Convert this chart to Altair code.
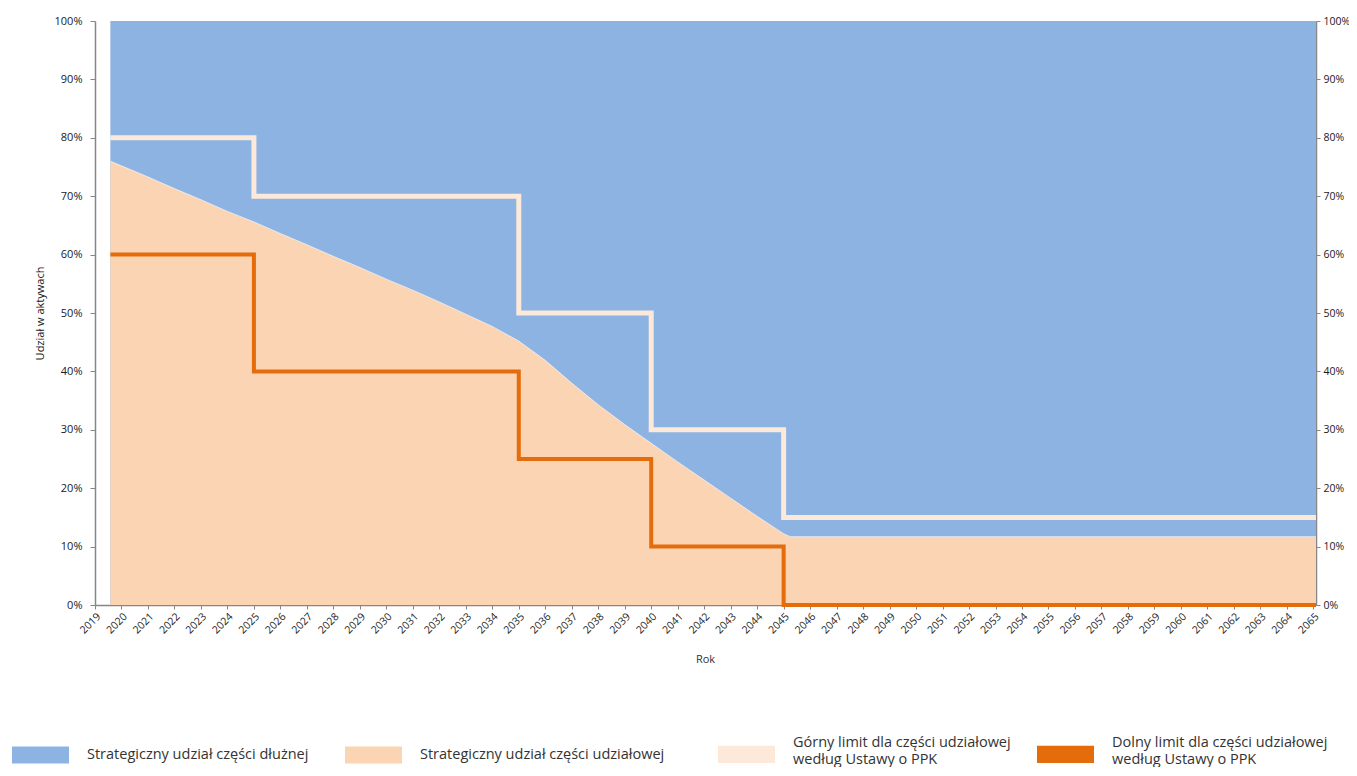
import altair as alt
import pandas as pd

# ---- data ----
eq_years = [2019.58, 2020, 2021, 2022, 2023, 2024, 2025, 2026, 2027, 2028, 2029,
            2030, 2031, 2032, 2033, 2034, 2035, 2036, 2037, 2038, 2039, 2040,
            2041, 2042, 2043, 2044, 2045, 2045.25, 2065.1]
equity = [0.760, 0.752, 0.733, 0.713, 0.694, 0.674, 0.656, 0.636, 0.617, 0.597, 0.578,
          0.558, 0.539, 0.519, 0.498, 0.477, 0.452, 0.419, 0.380, 0.343, 0.309, 0.277,
          0.245, 0.214, 0.183, 0.152, 0.122, 0.117, 0.117]
debt_top = [1.0] * len(eq_years)

limit_years = [2019.58, 2025, 2035, 2040, 2045, 2065.1]
upper_limit = [0.80, 0.70, 0.50, 0.30, 0.15, 0.15]
lower_limit = [0.60, 0.40, 0.25, 0.10, 0.00, 0.00]

tick_years = list(range(2019, 2066))
pct_ticks = [0.0, 0.1, 0.2, 0.3, 0.4, 0.5, 0.6, 0.7, 0.8, 0.9, 1.0]

legend_names = ["Strategiczny udział części dłużnej",
                "Strategiczny udział części udziałowej",
                "Górny limit dla części udziałowej|według Ustawy o PPK",
                "Dolny limit dla części udziałowej|według Ustawy o PPK"]
legend_colors = ["#8DB3E2", "#FBD4B4", "#FDE9D9", "#E46C0A"]
legend_x = [-83, 250, 623, 942]
legend_y = [705.5, 705.5, 693.5, 693.5]
legend_shapes = ["M-1,-0.3H1V0.3H-1Z", "M-1,-0.3H1V0.3H-1Z",
                 "M-1,0.1H1V0.7H-1Z", "M-1,0.1H1V0.7H-1Z"]

# ---- tables ----
area_df = pd.DataFrame({"year": eq_years, "equity": equity, "top": debt_top})
lim_df = pd.DataFrame({"year": limit_years, "upper": upper_limit, "lower": lower_limit})

W, H = 1221, 584
AX = "#868686"
FONT = "Open Sans"

x_enc = alt.X("year:Q",
              scale=alt.Scale(domain=[2019, 2065.1], nice=False, zero=False),
              axis=alt.Axis(values=tick_years, format="d", labelAngle=315,
                            labelOverlap=False, labelFlush=False, grid=False,
                            tickSize=4, tickColor=AX, domainColor=AX, domainWidth=1.5,
                            labelFontSize=10.5, labelFont=FONT, labelColor="#262626",
                            labelPadding=2,
                            title="Rok", titleFont=FONT, titleFontSize=11,
                            titleFontWeight="normal", titleColor="#333333",
                            titleX=610, titleY=54, titleBaseline="middle",
                            titleAlign="center"))

y_scale = alt.Scale(domain=[0, 1], nice=False, zero=True)
left_axis = alt.Axis(values=pct_ticks, format=".0%", grid=False, orient="left",
                     tickSize=5, tickColor=AX, domainColor=AX, domainWidth=1.5,
                     labelFontSize=11, labelFont=FONT, labelColor="#1a1a1a",
                     labelPadding=8,
                     title="Udział w aktywach", titleFont=FONT, titleFontSize=11,
                     titleFontWeight="normal", titleColor="#1a1a1a",
                     titleX=-55, titleY=H / 2, titleAngle=270,
                     titleAlign="center", titleBaseline="middle")
right_axis = alt.Axis(values=pct_ticks, format=".0%", grid=False, orient="right",
                      tickSize=4, tickColor=AX, domainColor=AX, domainWidth=1.5,
                      labelFontSize=10.5, labelFont=FONT, labelColor="#1a1a1a",
                      labelPadding=3, title=None)

base = alt.Chart(area_df)
blue = base.mark_area(color=legend_colors[0], interpolate="linear").encode(
    x=x_enc, y=alt.Y("top:Q", scale=y_scale, axis=left_axis))
peach = base.mark_area(color=legend_colors[1], interpolate="linear").encode(
    x=x_enc, y=alt.Y("equity:Q", scale=y_scale, axis=left_axis))
edge = base.mark_line(color="#FFFFFF", strokeWidth=1, opacity=0.6).encode(
    x=x_enc, y=alt.Y("equity:Q", scale=y_scale, axis=left_axis))

lim = alt.Chart(lim_df)
upper = lim.mark_line(color=legend_colors[2], strokeWidth=5, interpolate="step-after").encode(
    x=x_enc, y=alt.Y("upper:Q", scale=y_scale, axis=left_axis))
lower = lim.mark_line(color=legend_colors[3], strokeWidth=4, interpolate="step-after").encode(
    x=x_enc, y=alt.Y("lower:Q", scale=y_scale, axis=right_axis))

inner = alt.layer(blue, peach, edge, upper)

legend_layers = []
for name, col, lx, ly, shp in zip(legend_names, legend_colors, legend_x, legend_y, legend_shapes):
    leg_df = pd.DataFrame({"label": [name]})
    legend_layers.append(
        alt.Chart(leg_df).mark_square(size=10).encode(
            color=alt.Color("label:N",
                            scale=alt.Scale(domain=[name], range=[col]),
                            legend=alt.Legend(
                                orient="none", legendX=lx, legendY=ly,
                                title=None, padding=0,
                                symbolType=shp, symbolSize=3249,
                                symbolStrokeWidth=0, symbolOpacity=1,
                                labelFont=FONT, labelFontSize=14.5,
                                labelColor="#333333", labelOffset=18,
                                labelLimit=400,
                                labelExpr="split(datum.label, '|')"))
        ).transform_filter("false")
    )

chart = alt.layer(inner, lower, *legend_layers).resolve_scale(
    y="independent", color="independent"
).resolve_legend(color="independent").properties(
    width=W, height=H,
    autosize=alt.AutoSizeParams(type="none"),
    padding={"left": 87, "top": 13, "right": 33, "bottom": 162},
).configure_view(stroke=None)

chart.save("out.html", embed_options={"renderer": "svg", "actions": False})
